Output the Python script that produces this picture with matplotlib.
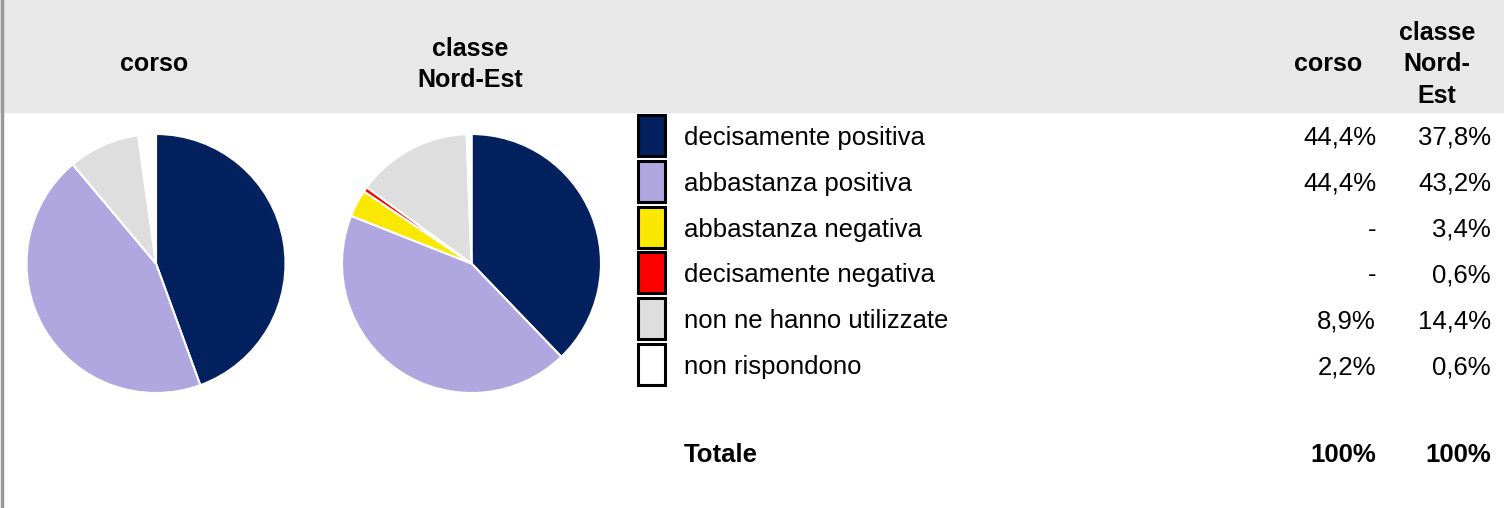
import numpy as np
from matplotlib import pyplot as plt
from matplotlib.patches import Rectangle

plt.rcParams['font.family'] = ['Liberation Sans', 'DejaVu Sans']

# Data
categories = ["decisamente positiva", "abbastanza positiva", "abbastanza negativa",
              "decisamente negativa", "non ne hanno utilizzate", "non rispondono"]
corso = [44.4, 44.4, 0.0, 0.0, 8.9, 2.2]
nordest = [37.8, 43.2, 3.4, 0.6, 14.4, 0.6]
colors = ["#02215E", "#B1A7E0", "#FAE800", "#FF0000", "#DEDEDE", "#FFFFFF"]
totale = ["100%", "100%"]

W, H = 1504, 508
fig = plt.figure(figsize=(W / 100, H / 100), dpi=100)

# overlay axis in pixel coords (y down)
ax = fig.add_axes([0, 0, 1, 1])
ax.set_xlim(0, W)
ax.set_ylim(H, 0)
ax.axis("off")

# header band + left border
ax.add_patch(Rectangle((0, 0), W, 112, color="#E8E8E8", zorder=0))
ax.plot([2, 2], [0, H], color="#999999", lw=2.5, zorder=1)

hfont = dict(fontsize=18, fontweight="bold", ha="center", va="center")
ax.text(154, 64, "corso", **hfont)
ax.text(470, 49, "classe", **hfont)
ax.text(470, 80, "Nord-Est", **hfont)
ax.text(1328, 64, "corso", **hfont)
ax.text(1437, 33, "classe", **hfont)
ax.text(1437, 64, "Nord-", **hfont)
ax.text(1437, 96, "Est", **hfont)


def fmt(v):
    if v == 0:
        return "-"
    return ("%.1f%%" % v).replace(".", ",")


# legend / table
row_y = [136, 182, 228, 273, 319, 365]
for i, cat in enumerate(categories):
    y = row_y[i]
    ax.add_patch(Rectangle((638, y - 21), 27, 41, facecolor=colors[i],
                           edgecolor="black", lw=2.2, zorder=2))
    ax.text(684, y + 2, cat, fontsize=18.5, ha="left", va="center")
    ax.text(1376, y + 2, fmt(corso[i]), fontsize=18.5, ha="right", va="center")
    ax.text(1491, y + 2, fmt(nordest[i]), fontsize=18.5, ha="right", va="center")

ax.text(684, 455, "Totale", fontsize=18.5, fontweight="bold", ha="left", va="center")
ax.text(1376, 455, totale[0], fontsize=18.5, fontweight="bold", ha="right", va="center")
ax.text(1491, 455, totale[1], fontsize=18.5, fontweight="bold", ha="right", va="center")


# pies
def pie_at(cx, cy, r, vals):
    pax = fig.add_axes([(cx - r) / W, 1 - (cy + r) / H, 2 * r / W, 2 * r / H])
    pax.pie(vals, colors=colors, startangle=90, counterclock=False,
            wedgeprops=dict(edgecolor="white", linewidth=1.5))
    pax.set_xlim(-1, 1)
    pax.set_ylim(-1, 1)
    pax.set_aspect("equal")
    pax.axis("off")


pie_at(156, 263.5, 129.5, corso)
pie_at(471.5, 263.5, 129.5, nordest)

fig.savefig("out.png", dpi=100)
